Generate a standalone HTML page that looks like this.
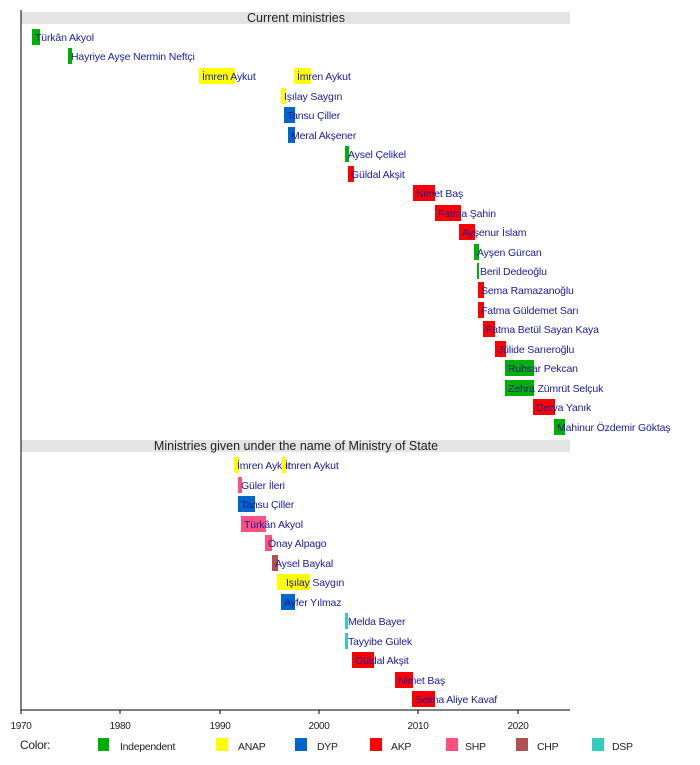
<!DOCTYPE html><html><head><meta charset="utf-8"><style>body{margin:0;background:#fff}svg text{font-family:"Liberation Sans",sans-serif}</style></head><body>
<svg width="700" height="760" xmlns="http://www.w3.org/2000/svg">
<rect x="21" y="12" width="549" height="12" fill="#e4e4e4"/>
<text x="296" y="22" font-size="12.5" text-anchor="middle" fill="#222">Current ministries</text>
<rect x="21" y="440" width="549" height="12" fill="#e4e4e4"/>
<text x="296" y="450" font-size="12.5" text-anchor="middle" fill="#222">Ministries given under the name of Ministry of State</text>
<g font-size="10.5" fill="#1a1a9c" letter-spacing="-0.15">
<rect x="32" y="29" width="8" height="16" fill="#00b000"/><text x="35" y="41">Türkân Akyol</text>
<rect x="68" y="48" width="4" height="16" fill="#00b000"/><text x="71" y="60">Hayriye Ayşe Nermin Neftçi</text>
<rect x="199" y="68" width="36" height="16" fill="#ffff00"/><text x="202" y="80">İmren Aykut</text>
<rect x="294" y="68" width="17" height="16" fill="#ffff00"/><text x="297" y="80">İmren Aykut</text>
<rect x="281" y="88" width="5" height="16" fill="#ffff00"/><text x="284" y="100">Işılay Saygın</text>
<rect x="284" y="107" width="11" height="16" fill="#0066cc"/><text x="287" y="119">Tansu Çiller</text>
<rect x="288" y="127" width="7" height="16" fill="#0066cc"/><text x="291" y="139">Meral Akşener</text>
<rect x="345" y="146" width="4" height="16" fill="#00b000"/><text x="348" y="158">Aysel Çelikel</text>
<rect x="348" y="166" width="6" height="16" fill="#ff0000"/><text x="351" y="178">Güldal Akşit</text>
<rect x="413" y="185" width="22" height="16" fill="#ff0000"/><text x="416" y="197">Nimet Baş</text>
<rect x="435" y="205" width="26" height="16" fill="#ff0000"/><text x="438" y="217">Fatma Şahin</text>
<rect x="459" y="224" width="16" height="16" fill="#ff0000"/><text x="462" y="236">Ayşenur İslam</text>
<rect x="474" y="244" width="5" height="16" fill="#00b000"/><text x="477" y="256">Ayşen Gürcan</text>
<rect x="477" y="263" width="2" height="16" fill="#00b000"/><text x="480" y="275">Beril Dedeoğlu</text>
<rect x="478" y="282" width="6" height="16" fill="#ff0000"/><text x="481" y="294">Sema Ramazanoğlu</text>
<rect x="478" y="302" width="6" height="16" fill="#ff0000"/><text x="481" y="314">Fatma Güldemet Sarı</text>
<rect x="483" y="321" width="12" height="16" fill="#ff0000"/><text x="486" y="333">Fatma Betül Sayan Kaya</text>
<rect x="495" y="341" width="11" height="16" fill="#ff0000"/><text x="498" y="353">Jülide Sarıeroğlu</text>
<rect x="505" y="360" width="29" height="16" fill="#00b000"/><text x="508" y="372">Ruhsar Pekcan</text>
<rect x="505" y="380" width="29" height="16" fill="#00b000"/><text x="508" y="392">Zehra Zümrüt Selçuk</text>
<rect x="533" y="399" width="22" height="16" fill="#ff0000"/><text x="536" y="411">Derya Yanık</text>
<rect x="554" y="419" width="11" height="16" fill="#00b000"/><text x="557" y="431">Mahinur Özdemir Göktaş</text>
<rect x="234" y="457" width="5" height="16" fill="#ffff00"/><text x="237" y="469">İmren Aykut</text>
<rect x="282" y="457" width="4" height="16" fill="#ffff00"/><text x="285" y="469">İmren Aykut</text>
<rect x="238" y="477" width="4" height="16" fill="#ff5080"/><text x="241" y="489">Güler İleri</text>
<rect x="238" y="496" width="17" height="16" fill="#0066cc"/><text x="241" y="508">Tansu Çiller</text>
<rect x="241" y="516" width="25" height="16" fill="#ff5080"/><text x="244" y="528">Türkân Akyol</text>
<rect x="265" y="535" width="7" height="16" fill="#ff5080"/><text x="268" y="547">Önay Alpago</text>
<rect x="272" y="555" width="6" height="16" fill="#b05050"/><text x="275" y="567">Aysel Baykal</text>
<rect x="277" y="574" width="33" height="16" fill="#ffff00"/><text x="286" y="586">Işılay Saygın</text>
<rect x="281" y="594" width="14" height="16" fill="#0066cc"/><text x="284" y="606">Ayfer Yılmaz</text>
<rect x="345" y="613" width="3" height="16" fill="#33ccc0"/><text x="348" y="625">Melda Bayer</text>
<rect x="345" y="633" width="3" height="16" fill="#33ccc0"/><text x="348" y="645">Tayyibe Gülek</text>
<rect x="352" y="652" width="22" height="16" fill="#ff0000"/><text x="355" y="664">Güldal Akşit</text>
<rect x="395" y="672" width="18" height="16" fill="#ff0000"/><text x="398" y="684">Nimet Baş</text>
<rect x="412" y="691" width="23" height="16" fill="#ff0000"/><text x="415" y="703">Selma Aliye Kavaf</text>
</g>
<line x1="21" y1="10" x2="21" y2="710" stroke="#000" stroke-width="1"/>
<line x1="21" y1="710" x2="570" y2="710" stroke="#000" stroke-width="1"/>
<g stroke="#000"><line x1="21" y1="710" x2="21" y2="714"/><line x1="120" y1="710" x2="120" y2="714"/><line x1="220" y1="710" x2="220" y2="714"/><line x1="319" y1="710" x2="319" y2="714"/><line x1="418" y1="710" x2="418" y2="714"/><line x1="518" y1="710" x2="518" y2="714"/></g>
<g font-size="10" fill="#222" text-anchor="middle" letter-spacing="-0.3">
<text x="21" y="729">1970</text><text x="120" y="729">1980</text><text x="220" y="729">1990</text><text x="319" y="729">2000</text><text x="418" y="729">2010</text><text x="518" y="729">2020</text></g>
<g font-size="10.5" fill="#222" letter-spacing="-0.3">
<text x="20" y="749" font-size="12">Color:</text>
<rect x="98" y="738" width="11" height="13" fill="#00b000"/><text x="120" y="750">Independent</text>
<rect x="216" y="738" width="12" height="13" fill="#ffff00"/><text x="238" y="750">ANAP</text>
<rect x="295" y="738" width="12" height="13" fill="#0066cc"/><text x="317" y="750">DYP</text>
<rect x="370" y="738" width="12" height="13" fill="#ff0000"/><text x="391" y="750">AKP</text>
<rect x="446" y="738" width="12" height="13" fill="#ff5080"/><text x="465" y="750">SHP</text>
<rect x="516" y="738" width="12" height="13" fill="#b05050"/><text x="537" y="750">CHP</text>
<rect x="592" y="738" width="12" height="13" fill="#33ccc0"/><text x="612" y="750">DSP</text>
</g>
</svg></body></html>
